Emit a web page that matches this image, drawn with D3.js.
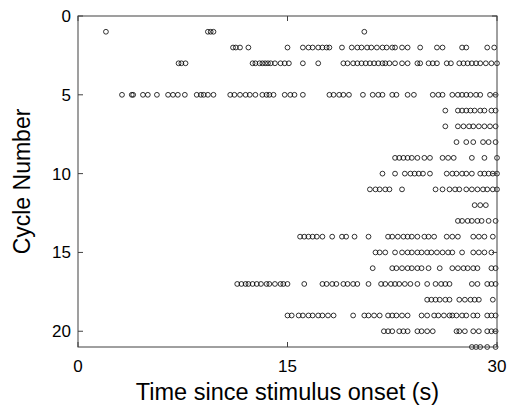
<!DOCTYPE html>
<html><head><meta charset="utf-8">
<script src="https://cdn.jsdelivr.net/npm/d3@7"></script>
<style>body{margin:0;background:#fff}svg{display:block}</style>
</head><body>
<svg id="c" width="510" height="408"></svg>
<script>
const xTicks = [0, 15, 30];
const yTicks = [0, 5, 10, 15, 20];
const xLabel = "Time since stimulus onset (s)";
const yLabel = "Cycle Number";

const row1 = [2.0, 9.3, 9.5, 9.7, 20.5];
const row2 = [11.1, 11.3, 11.6, 12.2, 15.0, 16.1, 16.5, 16.8, 17.2, 17.5, 17.8, 18.0, 18.9, 19.6, 20.0, 20.3, 20.7, 21.0, 21.4, 21.8, 22.1, 22.5, 22.7, 23.2, 23.6, 24.5, 25.7, 26.1, 27.5, 27.8, 29.3, 29.8];
const row3 = [7.2, 7.4, 7.7, 12.5, 12.7, 13.0, 13.2, 13.4, 13.6, 13.8, 14.1, 14.5, 14.8, 15.1, 16.1, 17.2, 19.0, 19.3, 19.7, 20.0, 20.3, 20.6, 20.9, 21.2, 21.5, 21.8, 22.0, 22.3, 22.7, 23.2, 23.6, 24.3, 24.5, 25.1, 25.4, 25.7, 26.4, 26.7, 27.3, 27.6, 27.9, 28.2, 28.5, 28.8, 29.2, 29.6, 30.0];
const row4 = [];
const row5 = [3.15, 3.85, 3.95, 4.65, 5.0, 5.65, 6.45, 6.8, 7.15, 7.65, 8.5, 8.8, 9.0, 9.3, 9.7, 10.9, 11.2, 11.6, 12.0, 12.3, 12.7, 13.2, 13.5, 13.7, 14.0, 14.8, 15.2, 15.5, 16.1, 18.0, 18.3, 18.7, 19.0, 19.4, 20.4, 21.1, 21.5, 21.8, 22.5, 22.8, 23.6, 24.05, 25.4, 25.8, 26.1, 26.8, 27.2, 27.5, 27.8, 28.1, 28.5, 28.8, 29.5, 29.9];
const row6 = [26.3, 27.2, 27.5, 27.8, 28.1, 28.4, 28.8, 29.1, 29.6, 29.9];
const row7 = [26.3, 27.2, 27.6, 28.0, 28.3, 28.7, 29.1, 29.5, 29.9];
const row8 = [27.1, 27.8, 28.3, 29.0, 29.4, 29.9];
const row9 = [22.7, 23.0, 23.3, 23.6, 23.9, 24.3, 24.8, 25.2, 26.1, 26.5, 26.9, 28.2, 29.1, 30.0];
const row10 = [21.8, 22.7, 23.4, 23.8, 24.1, 24.4, 24.7, 25.2, 26.4, 26.8, 27.1, 27.5, 27.8, 28.2, 28.8, 29.1, 29.4, 29.7, 30.0];
const row11 = [20.9, 21.3, 21.6, 22.0, 22.3, 23.2, 25.6, 26.1, 26.6, 27.0, 27.3, 27.8, 28.2, 28.6, 29.0, 29.3, 29.7, 30.0];
const row12 = [28.4, 28.8, 29.2];
const row13 = [27.2, 27.5, 27.9, 28.2, 28.6, 28.9, 29.4, 29.9];
const row14 = [15.9, 16.2, 16.5, 16.8, 17.1, 17.5, 18.2, 18.9, 19.2, 19.8, 20.8, 22.2, 22.5, 22.9, 23.3, 23.6, 23.9, 24.3, 24.8, 25.1, 25.5, 26.4, 26.8, 27.2, 28.3, 28.7, 29.1, 29.7];
const row15 = [21.3, 21.6, 22.0, 22.7, 23.2, 23.6, 23.9, 24.3, 24.6, 25.0, 25.3, 25.7, 26.1, 26.5, 26.8, 27.5, 28.3, 28.7, 29.1, 29.6];
const row16 = [21.1, 22.5, 22.8, 23.2, 23.6, 23.9, 24.3, 24.6, 25.1, 25.9, 26.8, 27.2, 27.6, 27.9, 28.3, 28.6, 29.6, 29.9];
const row17 = [11.4, 11.7, 12.0, 12.2, 12.5, 12.8, 13.1, 13.5, 13.7, 14.1, 14.5, 14.7, 15.0, 16.2, 17.5, 17.8, 18.2, 18.5, 19.0, 19.3, 19.7, 20.0, 20.8, 21.7, 22.0, 22.4, 22.7, 23.0, 23.4, 23.8, 24.3, 25.0, 25.6, 26.0, 26.3, 26.6, 28.2, 28.6, 29.3, 29.6, 29.9];
const row18 = [25.0, 25.3, 25.6, 25.9, 26.3, 26.6, 27.3, 27.7, 28.1, 28.4, 28.7, 29.7];
const row19 = [15.0, 15.3, 15.8, 16.1, 16.5, 16.8, 17.2, 17.5, 17.9, 18.3, 19.7, 20.5, 20.8, 21.2, 21.6, 22.2, 22.5, 22.8, 23.2, 23.6, 24.6, 25.0, 25.5, 25.8, 26.2, 26.6, 26.8, 27.1, 27.5, 27.8, 28.3, 28.6, 29.3, 29.6, 29.9];
const row20 = [21.9, 22.2, 22.5, 23.0, 23.3, 23.6, 24.3, 24.6, 25.0, 25.4, 27.1, 27.3, 27.7, 28.3, 28.7, 29.3, 29.6, 29.9];
const row21 = [28.2, 28.5, 28.8, 29.3, 29.9];

const rows = [row1,row2,row3,row4,row5,row6,row7,row8,row9,row10,row11,row12,row13,row14,row15,row16,row17,row18,row19,row20,row21];
const points = [];
rows.forEach((r,i)=>r.forEach(t=>points.push({t, c:i+1})));

const L=78, R=497, T=16, B=347;
const svg = d3.select("#c");
const x = d3.scaleLinear().domain([0,30]).range([L,R]);
const y = d3.scaleLinear().domain([0,21]).range([T,B]);
const font = "Liberation Sans, Arial, sans-serif";
const axisCol = "#404040";

// points
svg.append("g").selectAll("circle").data(points).enter().append("circle")
  .attr("cx", d=>x(d.t)).attr("cy", d=>y(d.c)).attr("r", 2.4)
  .attr("fill","none").attr("stroke","#000").attr("stroke-width",0.8);

// frame
svg.append("rect").attr("x",L).attr("y",T).attr("width",R-L).attr("height",B-T)
  .attr("fill","none").attr("stroke",axisCol).attr("stroke-width",1);

const tl = 5;
const g = svg.append("g").attr("stroke",axisCol).attr("stroke-width",1);
xTicks.forEach(v=>{
  g.append("line").attr("x1",x(v)).attr("x2",x(v)).attr("y1",B).attr("y2",B-tl);
  g.append("line").attr("x1",x(v)).attr("x2",x(v)).attr("y1",T).attr("y2",T+tl);
});
yTicks.forEach(v=>{
  g.append("line").attr("x1",L).attr("x2",L+tl).attr("y1",y(v)).attr("y2",y(v));
  g.append("line").attr("x1",R).attr("x2",R-tl).attr("y1",y(v)).attr("y2",y(v));
});

svg.append("g").selectAll("text").data(xTicks).enter().append("text")
  .attr("x",d=>x(d)).attr("y",B+25).attr("text-anchor","middle")
  .attr("font-family",font).attr("font-size",17).text(d=>d);
svg.append("g").selectAll("text").data(yTicks).enter().append("text")
  .attr("x",L-7).attr("y",d=>y(d)+6).attr("text-anchor","end")
  .attr("font-family",font).attr("font-size",17).text(d=>d);

svg.append("text").attr("x",(L+R)/2).attr("y",400).attr("text-anchor","middle")
  .attr("font-family",font).attr("font-size",23.5).text(xLabel);
svg.append("text").attr("transform",`translate(30,${(T+B)/2}) rotate(-90)`)
  .attr("text-anchor","middle").attr("font-family",font).attr("font-size",23).text(yLabel);
</script>
</body></html>
